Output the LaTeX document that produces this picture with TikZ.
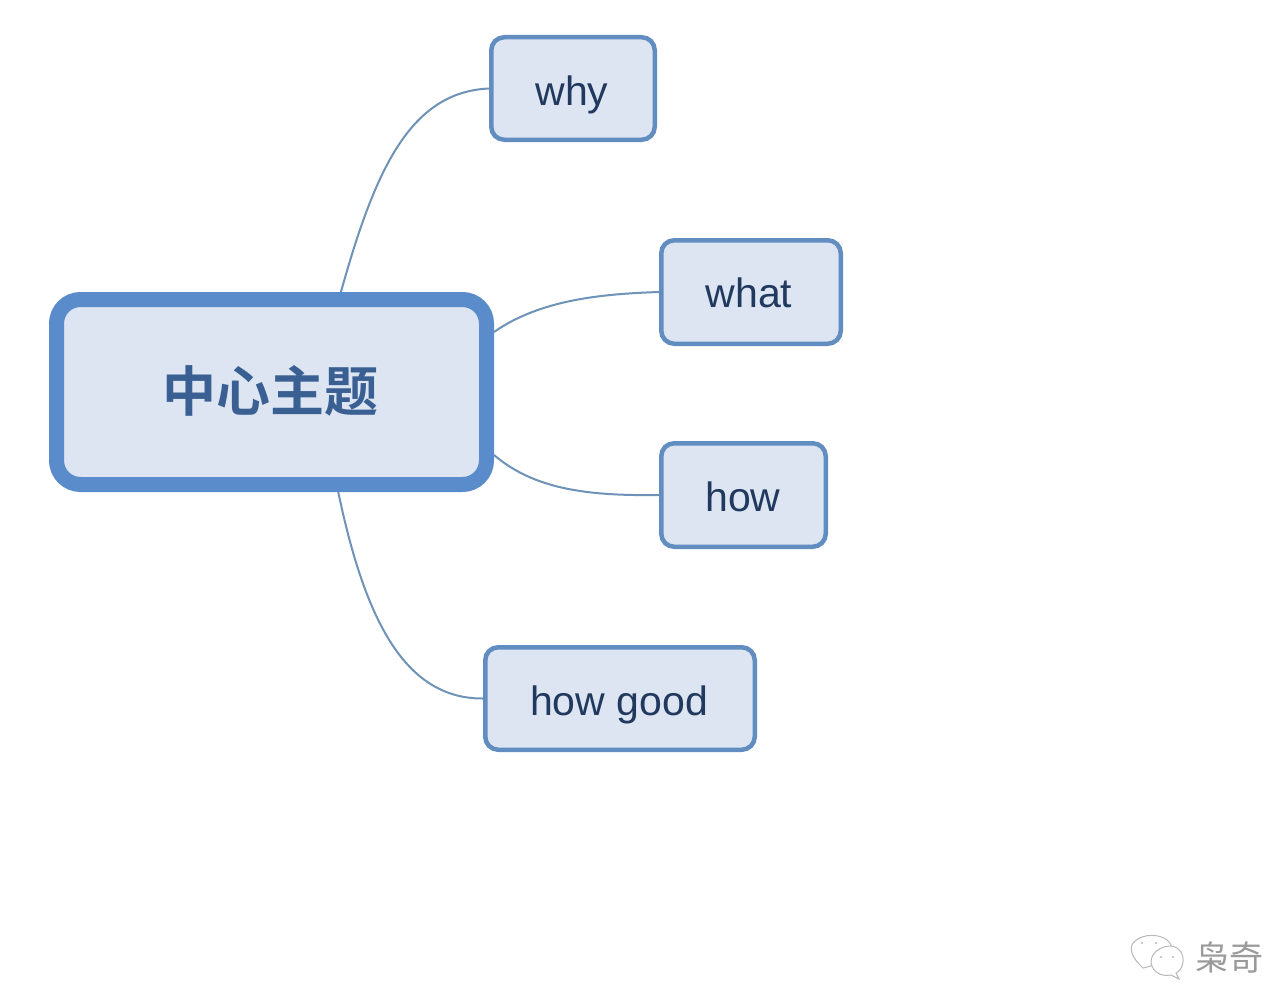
\documentclass[tikz,border=0pt]{standalone}
\usepackage{fontspec}
\setmainfont{Liberation Sans}
\newfontfamily\cjk{Noto Sans CJK SC}[BoldFont={* Bold}]
\usetikzlibrary{calc}
\definecolor{edgeblue}{HTML}{5A8CCB}
\definecolor{topicedge}{HTML}{618DC0}
\definecolor{fillblue}{HTML}{DCE5F1}
\definecolor{inkblue}{HTML}{22395F}
\definecolor{rootink}{HTML}{3A5F92}
\definecolor{linkblue}{HTML}{6E92B8}
\definecolor{wm}{HTML}{9A9A9A}
\tikzset{
  x=1pt,y=-1pt,
  topic/.style={draw=topicedge,fill=fillblue,line width=4.5pt,rounded corners=13pt,inner sep=0pt,anchor=center},
  roottopic/.style={draw=edgeblue,fill=fillblue,line width=15pt,rounded corners=24pt,inner sep=0pt,anchor=center},
  label/.style={text=inkblue,font=\fontsize{41}{46}\selectfont},
  link/.style={draw=linkblue,line width=2pt},
  bubble/.style={draw=wm!70,line width=1pt,fill=white},
}
\begin{document}
\begin{tikzpicture}
\useasboundingbox (0,0) rectangle (1274,990);
\fill[white] (0,0) rectangle (1274,990);
\node[roottopic,minimum width=430pt,minimum height=185pt] (root) at (271.5,392) {};
\node[text=rootink,font=\cjk\bfseries\fontsize{54}{60}\selectfont] (roottext) at (270.5,391) {中心主题};
\node[topic,minimum width=163.5pt,minimum height=102.5pt] (why) at (573,88.5) {};
\node[topic,minimum width=179.5pt,minimum height=103.5pt] (what) at (751,292) {};
\node[topic,minimum width=164.5pt,minimum height=103.5pt] (how) at (743.5,495) {};
\node[topic,minimum width=269.5pt,minimum height=102.5pt] (howgood) at (620,698.5) {};
\node[label] (whyt) at (572,96) {\strut why};
\node[label] (whatt) at (749,298) {\strut what};
\node[label] (howt) at (743,502) {\strut how};
\node[label] (howgoodt) at (619,706) {\strut how good};
\coordinate (r1) at ($(root.north west)!0.656!(root.north east)$);
\coordinate (r2) at ($(root.north east)!0.2!(root.south east)$);
\coordinate (r3) at ($(root.north east)!0.815!(root.south east)$);
\coordinate (r4) at ($(root.south west)!0.65!(root.south east)$);
\draw[link] (r1) .. controls (375,170) and (410,92) .. (why.west);
\draw[link] (r2) .. controls (540,300) and (600,294) .. (what.west);
\draw[link] (r3) .. controls (535,490) and (590,496) .. (how.west);
\draw[link] (r4) .. controls (365,620) and (405,699) .. (howgood.west);
\draw[bubble] (1143,968) .. controls (1132,958) and (1128,948) .. (1134,942) .. controls (1142,933) and (1163,933) .. (1170,943) .. controls (1173,948) and (1172,952) .. (1170,955) .. controls (1160,958) and (1152,965) .. (1151,966) -- cycle;
\draw[bubble] (1151,962) .. controls (1151,952) and (1162,946) .. (1170,946) .. controls (1178,946) and (1184,953) .. (1183,962) .. controls (1182,968) and (1180,971) .. (1176,973) -- (1179,979) -- (1171,975) .. controls (1163,977) and (1152,973) .. (1151,962) -- cycle;
\fill[wm!70] (1142,943) circle (1.2) (1156,943) circle (1.2) (1161,957) circle (1.2) (1173,957) circle (1.2);
\node[text=wm,font=\cjk\fontsize{34}{38}\selectfont,inner sep=0pt] (mark) at (1229,957) {枭奇};
\end{tikzpicture}
\end{document}
